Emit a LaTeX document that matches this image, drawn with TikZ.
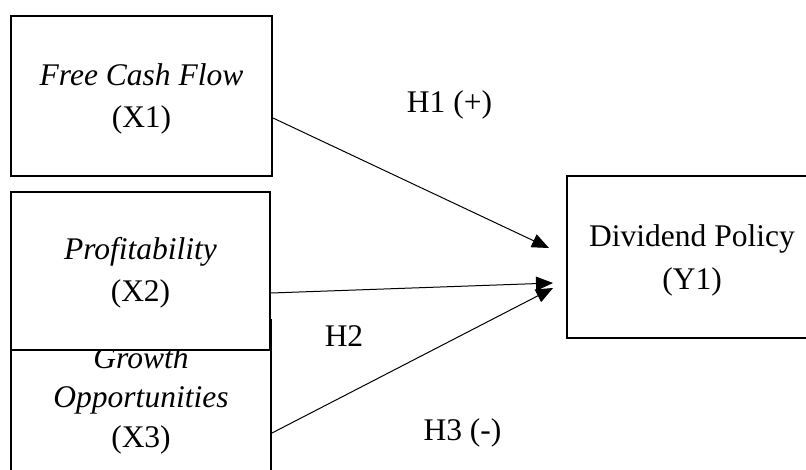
\documentclass[tikz,border=0pt]{standalone}
\usepackage{fontspec}
\setmainfont{Liberation Serif}
\usetikzlibrary{arrows.meta}
\begin{document}
\begin{tikzpicture}[x=1pt,y=-1pt,
  box/.style={draw,line width=2pt,rectangle,inner sep=0pt,fill=white},
  txt/.style={anchor=base,inner sep=0pt,font=\fontsize{31.5}{40}\selectfont},
  conn/.style={line width=1pt,-{Triangle[length=17pt,width=14pt]}}]
\useasboundingbox (0,0) rectangle (806,470);
\clip (0,0) rectangle (806,470);
% Box 3 (partly hidden behind box 2)
\node[box,minimum width=260pt,minimum height=170pt] (b3) at (141,405) {};
\node[txt] (g1) at (141,368) {\textit{Growth}};
\node[txt] (g2) at (141,407) {\textit{Opportunities}};
\node[txt] (g3) at (141,447) {(X3)};
% Box 2
\node[box,minimum width=259pt,minimum height=158pt] (b2) at (140.5,271) {};
\node[txt] (p1) at (140.5,260) {\textit{Profitability}};
\node[txt] (p2) at (140.5,302) {(X2)};
% Box 1
\node[box,minimum width=261pt,minimum height=160pt] (b1) at (141.5,96) {};
\node[txt] (f1) at (141.5,86) {\textit{Free Cash Flow}};
\node[txt] (f2) at (141.5,128) {(X1)};
% Box Y
\node[box,minimum width=250pt,minimum height=162pt] (by) at (692,257) {};
\node[txt] (d1) at (692,247) {Dividend Policy};
\node[txt] (d2) at (692,290) {(Y1)};
% arrow tips
\coordinate (t1) at (549,248);
\coordinate (t2) at (553,283);
\coordinate (t3) at (553,288);
\draw[conn] ([yshift=-22pt]b1.east) -- (t1);
\draw[conn] ([yshift=-22pt]b2.east) -- (t2);
\draw[conn] ([yshift=-28pt]b3.east) -- (t3);
% labels
\node[txt] (h1) at (449.5,113) {H1 (+)};
\node[txt] (h2) at (344,347) {H2};
\node[txt] (h3) at (462.5,440) {H3 (-)};
\end{tikzpicture}
\end{document}
